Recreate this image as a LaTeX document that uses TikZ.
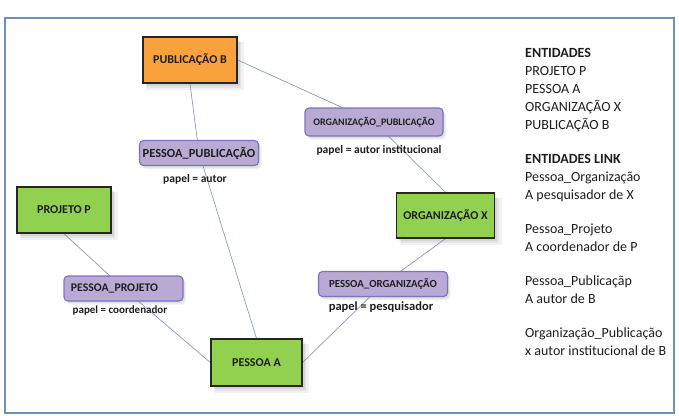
\documentclass[tikz,border=0pt]{standalone}
\usepackage{fontspec}
\setmainfont{Carlito}
\usetikzlibrary{shadows,backgrounds}
\definecolor{orangeB}{HTML}{F9A23C}
\definecolor{greenE}{HTML}{92D050}
\definecolor{lavfill}{HTML}{B8AAD4}
\definecolor{lavdraw}{HTML}{7B74BC}
\definecolor{frameC}{HTML}{6F90B0}
\definecolor{lineC}{HTML}{8D9BB9}
\definecolor{txtC}{HTML}{1E1E1E}
\begin{document}
\begin{tikzpicture}[x=1pt,y=-1pt,
  softshadow/.style={
    drop shadow={opacity=0.10,shadow xshift=5pt,shadow yshift=-6pt,shadow scale=1.04},
    drop shadow={opacity=0.12,shadow xshift=4pt,shadow yshift=-5pt},
    drop shadow={opacity=0.14,shadow xshift=2.5pt,shadow yshift=-3pt}},
  entity/.style={draw=black!85,line width=1.3pt,inner sep=0pt,
    font=\bfseries\fontsize{12}{14}\selectfont,text=txtC,softshadow},
  linkbox/.style={draw=lavdraw,fill=lavfill,rounded corners=4pt,line width=1.1pt,
    inner sep=0pt,minimum height=25pt,text=txtC,
    drop shadow={opacity=0.12,shadow xshift=3pt,shadow yshift=-3.5pt},
    drop shadow={opacity=0.14,shadow xshift=1.5pt,shadow yshift=-2pt}},
  lbl/.style={font=\bfseries\fontsize{11.5}{13}\selectfont,text=txtC,inner sep=0pt},
  conn/.style={draw=lineC,line width=0.7pt}]
\useasboundingbox (0,0) rectangle (679,415);
\begin{scope}[on background layer]
\fill[white] (0,0) rectangle (679,415);
\end{scope}
\draw[frameC,line width=1.6pt] (5,18) rectangle (674,413);

% entities
\node[entity,fill=orangeB,minimum width=94pt,minimum height=46pt] (pubB) at (190,60) {PUBLICAÇÃO B};
\node[entity,fill=greenE,minimum width=94pt,minimum height=46pt] (projP) at (64,210) {PROJETO P};
\node[entity,fill=greenE,minimum width=98pt,minimum height=45pt] (orgX) at (445.5,215.5) {ORGANIZAÇÃO X};
\node[entity,fill=greenE,minimum width=91pt,minimum height=47pt] (pessA) at (256.5,362.5) {PESSOA A};

% link entities
\node[linkbox,minimum width=119pt,font=\bfseries\fontsize{12.4}{14}\selectfont] (pessPub) at (199,153) {PESSOA\_PUBLICAÇÃO};
\node[linkbox,minimum width=138pt,minimum height=28pt,font=\bfseries\fontsize{10}{12}\selectfont] (orgPub) at (374,122) {ORGANIZAÇÃO\_PUBLICAÇÃO};
\node[linkbox,minimum width=119pt,font=\bfseries\fontsize{11.7}{13}\selectfont] (pessProj) at (123.5,288.5) {\hspace*{-18pt}PESSOA\_PROJETO};
\node[linkbox,minimum width=129pt,font=\bfseries\fontsize{10.8}{13}\selectfont] (pessOrg) at (383,284) {PESSOA\_ORGANIZAÇÃO};

% labels
\node[lbl] (lPub) at (195,179) {papel = autor};
\node[lbl] (lOrgPub) at (379,150) {papel = autor institucional};
\node[lbl,font=\bfseries\fontsize{11}{13}\selectfont] (lProj) at (120,311) {papel = coordenador};
\node[lbl,font=\bfseries\fontsize{12.5}{14}\selectfont] (lOrg) at (381,307) {papel = pesquisador};

% connectors
\begin{scope}[on background layer]
\draw[conn] (pubB.south) -- (pessPub.center) -- (pessA.north);
\draw[conn] (pubB.east) -- (orgPub.center) -- (orgX.north);
\draw[conn] (projP.south) -- (pessProj.center) -- (pessA.west);
\draw[conn] (orgX.south) -- (pessOrg.center) -- (pessA.east);
\end{scope}

% legend
\node[anchor=north west,align=left,inner sep=0pt,text=txtC,
  font=\fontsize{14}{18}\selectfont] (legend) at (525,48)
 {\textbf{ENTIDADES}\\
  PROJETO P\\
  PESSOA A\\
  ORGANIZAÇÃO X\\
  PUBLICAÇÃO B\\[16pt]
  \textbf{ENTIDADES LINK}\\
  Pessoa\_Organização\\
  A pesquisador  de X\\[16pt]
  Pessoa\_Projeto\\
  A coordenador  de P\\[16pt]
  Pessoa\_Publicaçãp\\
  A autor de B\\[16pt]
  Organização\_Publicação\\
  x autor institucional de B};
\end{tikzpicture}
\end{document}
